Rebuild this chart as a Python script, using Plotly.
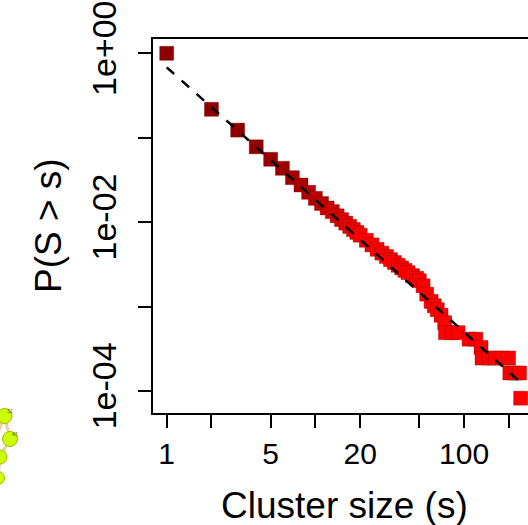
import numpy as np
import plotly.graph_objects as go

# ---- data ----
cluster_size = [1, 2, 3, 4, 5, 6, 7, 8, 9, 10, 11, 12,
                13, 14, 15, 16, 17, 18, 19, 20, 22, 24, 26, 28, 30, 32, 34, 36, 38, 40,
                42, 45, 48, 50, 53, 56, 60, 63, 66, 70, 74,
                75, 83, 91, 108, 120, 130, 132, 147, 163, 181, 199, 203, 220, 236, 240]
prob_greater = [1.0, 0.217, 0.123, 0.078, 0.0555, 0.0434, 0.0336, 0.0275, 0.02255, 0.0191, 0.0166, 0.0147,
                0.01332, 0.01188, 0.01071, 0.00973, 0.00889, 0.00818, 0.00755, 0.00700, 0.00609, 0.00537,
                0.00476, 0.00429, 0.00392, 0.00359, 0.00332, 0.00308, 0.00287, 0.00268,
                0.00252, 0.00232, 0.00216, 0.00202, 0.00176, 0.00140, 0.00115, 0.00102, 0.000917, 0.000787, 0.000643,
                4.9e-4, 4.9e-4, 4.9e-4, 4.1e-4, 4.1e-4, 3.27e-4, 2.45e-4, 2.45e-4, 2.45e-4, 2.45e-4, 2.45e-4,
                1.63e-4, 1.63e-4, 1.63e-4, 8.2e-5]
fit_s = [1, 240]
fit_p = [0.682, 1.26e-4]

x_tickvals = [1, 2, 5, 10, 20, 50, 100, 200]
x_ticktext = ["1", "", "5", "", "20", "", "100", ""]
y_tickvals = [1, 0.1, 0.01, 0.001, 0.0001]
y_ticktext = ["1e+00", "", "1e-02", "", "1e-04"]

FONT = "Liberation Sans, Arial, Helvetica, sans-serif"

fig = go.Figure()
fig.add_trace(go.Scatter(
    x=cluster_size, y=prob_greater, mode="markers",
    marker=dict(symbol="square", size=14,
                color=np.log10(cluster_size), cmin=0, cmax=np.log10(240),
                colorscale=[[0, "#8B0000"], [0.25, "#920000"], [0.355, "#A30000"],
                            [0.44, "#C00000"], [0.495, "#E00000"], [0.55, "#FF0000"], [1, "#FF0000"]],
                line=dict(width=0.6, color="rgba(110,0,0,0.6)")),
    showlegend=False, hoverinfo="skip"))
fig.add_trace(go.Scatter(
    x=fit_s, y=fit_p, mode="lines",
    line=dict(color="black", width=2.5, dash="10px,10px"),
    showlegend=False, hoverinfo="skip"))

L, R, T, B = 153, 528, 39, 413
W, H = 528, 525

def px(x, y):
    return (x - L) / (R - L), (B - y) / (B - T)

# partial network-graph nodes from neighbouring panel (bottom-left)
shapes = []
links = [((4.5, 416), (10, 439)), ((10, 439), (0, 457)), ((4.5, 416), (-5, 440)), ((0, 457), (-2, 478))]
for (a, b) in links:
    x0, y0 = px(*a); x1, y1 = px(*b)
    shapes.append(dict(type="line", xref="paper", yref="paper", x0=x0, y0=y0, x1=x1, y1=y1,
                       line=dict(color="#E6D29A", width=3), layer="above"))
nodes = [(4.5, 416, 7.5, "32"), (10, 439, 7.5, "43"), (0, 457, 7, ""), (-2, 478, 6.5, "")]
annotations = []
for (cx, cy, r, lab) in nodes:
    x0, y0 = px(cx - r, cy + r); x1, y1 = px(cx + r, cy - r)
    shapes.append(dict(type="circle", xref="paper", yref="paper", x0=x0, y0=y0, x1=x1, y1=y1,
                       fillcolor="#CCFF00", line=dict(color="#A8B400", width=1), layer="above"))
    if lab:
        ax, ay = px(cx, cy)
        annotations.append(dict(text=lab, x=ax, y=ay, xref="paper", yref="paper", showarrow=False,
                                font=dict(size=5, color="#556000", family=FONT)))

ax_, ay_ = px(344, 505)
annotations.append(dict(text="Cluster size (s)", x=ax_, y=ay_, xref="paper", yref="paper",
                        showarrow=False, xanchor="center", yanchor="middle",
                        font=dict(size=37, color="black", family=FONT)))
bx_, by_ = px(48, 225)
annotations.append(dict(text="P(S > s)", x=bx_, y=by_, xref="paper", yref="paper",
                        showarrow=False, xanchor="center", yanchor="middle", textangle=-90,
                        font=dict(size=37, color="black", family=FONT)))

fig.update_layout(
    width=W, height=H,
    margin=dict(l=L, r=W - R, t=T, b=H - B, pad=0, autoexpand=False),
    paper_bgcolor="white", plot_bgcolor="white",
    shapes=shapes, annotations=annotations,
    font=dict(family=FONT, color="black"),
)
fig.update_xaxes(type="log", range=[(L - 166.7) / 148.7, (R - 166.7) / 148.7],
                 automargin=False,
                 tickvals=x_tickvals, ticktext=x_ticktext,
                 ticks="outside", ticklen=13, tickwidth=2, tickcolor="black",
                 showline=True, linecolor="black", linewidth=2, mirror=True,
                 showgrid=False, zeroline=False,
                 tickfont=dict(size=30, family=FONT, color="black"))
fig.update_yaxes(type="log", range=[-4.2618, 0.1694], automargin=False,
                 tickvals=y_tickvals, ticktext=y_ticktext, tickangle=-90,
                 ticks="outside", ticklen=13, tickwidth=2, tickcolor="black",
                 ticklabelstandoff=8,
                 showline=True, linecolor="black", linewidth=2, mirror=False,
                 showgrid=False, zeroline=False,
                 tickfont=dict(size=34, family=FONT, color="black"))
fig.write_html("out.html", config={"displayModeBar": False},
               post_script="document.body.style.margin='0';document.body.style.overflow='hidden';")
